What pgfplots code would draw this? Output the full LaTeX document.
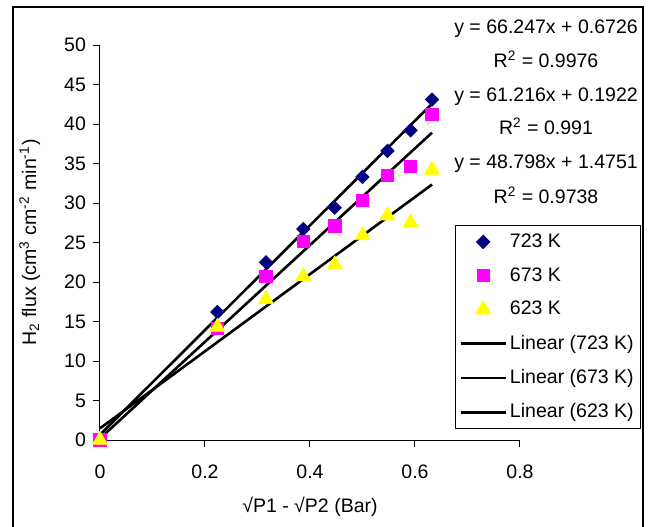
\documentclass[border=0pt]{standalone}
\usepackage{fontspec}
\setmainfont{Liberation Sans}
\usepackage{pgfplots}
\pgfplotsset{compat=1.18}
\definecolor{navyx}{RGB}{0,0,128}
\definecolor{magx}{RGB}{255,0,255}
\definecolor{yelx}{RGB}{255,255,0}
\newcommand{\fs}{\fontsize{9.8}{11.8}\selectfont}
\begin{document}
\begin{tikzpicture}
\begin{axis}[
  at={(0,0)}, anchor=south west,
  scale only axis, width=210bp, height=197.5bp,
  xmin=0, xmax=0.8, ymin=0, ymax=50,
  xtick={0,0.2,0.4,0.6,0.8}, ytick={0,5,...,50},
  axis lines=left, axis line style={-, line width=0.5bp, black},
  tick align=outside, major tick length=3.5bp, tick style={black, line width=0.5bp},
  /pgf/number format/assume math mode=true,
  tick label style={font=\fs},
  xticklabel style={yshift=-5.5bp},
  xlabel={√P1 - √P2 (Bar)},
  ylabel={H\textsubscript{2} flux (cm\textsuperscript{3} cm\textsuperscript{-2} min\textsuperscript{-1})},
  label style={font=\fs},
  xlabel style={at={(axis description cs:0.5,-0.17)}, anchor=center},
  ylabel style={at={(axis description cs:-0.167,0.5)}, anchor=center},
  clip=false,
  legend image code/.code={\draw[mark repeat=2,mark phase=2] plot coordinates {(0bp,0bp) (11.25bp,0bp) (22.5bp,0bp)};},
  legend cell align=left,
  legend style={at={(axis description cs:0.845,0.544)}, anchor=north west, draw=black, line width=0.5bp, font=\fs, inner xsep=2bp, inner ysep=2.5bp, row sep=5.6bp, nodes={inner sep=1.5bp}},
]
\addplot[only marks, mark=square*, mark size=2.35pt, mark options={rotate=45, fill=navyx, draw=navyx}]
 coordinates {(0,0) (0.2236,16.2) (0.3162,22.5) (0.3873,26.7) (0.4472,29.4) (0.5,33.3) (0.5477,36.6) (0.5916,39.2) (0.6325,43.1)};
\addplot[only marks, mark=square*, mark size=3.1pt, mark options={fill=magx, draw=magx}]
 coordinates {(0,0) (0.2236,14.1) (0.3162,20.7) (0.3873,25.1) (0.4472,27.1) (0.5,30.3) (0.5477,33.5) (0.5916,34.6) (0.6325,41.2)};
\addplot[only marks, mark=triangle*, mark size=4.3pt, mark options={fill=yelx, draw=yelx}]
 coordinates {(0,0) (0.2236,14.3) (0.3162,17.8) (0.3873,20.7) (0.4472,22.2) (0.5,25.9) (0.5477,28.4) (0.5916,27.5) (0.6325,34.2)};
\addplot[black, line width=1.3bp, no marks] coordinates {(0,0.6726) (0.6325,42.57)};
\addplot[black, line width=1.3bp, no marks] coordinates {(0,0.1922) (0.6325,38.91)};
\addplot[black, line width=1.3bp, no marks] coordinates {(0,1.4751) (0.6325,32.34)};
\legend{723 K, 673 K, 623 K, Linear (723 K), Linear (673 K), Linear (623 K)}
\node[font=\fs] at (axis description cs:1.062,1.0405) {y = 66.247x + 0.6726};
\node[font=\fs] at (axis description cs:1.062,0.9646) {R\textsuperscript{2} = 0.9976};
\node[font=\fs] at (axis description cs:1.062,0.868) {y = 61.216x + 0.1922};
\node[font=\fs] at (axis description cs:1.062,0.795) {R\textsuperscript{2} = 0.991};
\node[font=\fs] at (axis description cs:1.062,0.699) {y = 48.798x + 1.4751};
\node[font=\fs] at (axis description cs:1.062,0.620) {R\textsuperscript{2} = 0.9738};
\end{axis}
\draw[line width=0.9bp] (-43.5bp,-50bp) -- (-43.5bp,216.5bp) -- (271.5bp,216.5bp) -- (271.5bp,-50bp);
\pgfresetboundingbox
\path (-50bp,-43.5bp) rectangle (278.5bp,220bp);
\end{tikzpicture}
\end{document}
